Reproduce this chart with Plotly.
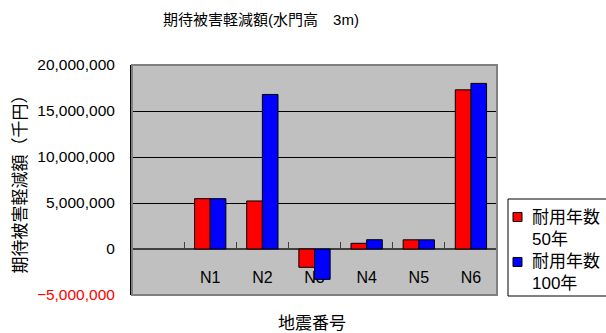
import plotly.graph_objects as go

# Earthquake IDs (first slot is an empty category)
categories = [" ", "N1", "N2", "N3", "N4", "N5", "N6"]
# Expected damage reduction (thousand yen)
life_50 = [None, 5470000, 5220000, -1990000, 620000, 1000000, 17300000]
life_100 = [None, 5470000, 16800000, -3300000, 1010000, 1000000, 18000000]

series_names = ["耐用年数<br>50年", "耐用年数<br>100年"]
series_colors = ["#ff0000", "#0000ff"]

y_ticks = [-5000000, 0, 5000000, 10000000, 15000000, 20000000]
y_tick_text = ['<span style="color:#ff0000">−5,000,000</span>', "0",
               "5,000,000", "10,000,000", "15,000,000", "20,000,000"]

FONT = "Liberation Sans, Arial, Noto Sans CJK JP, sans-serif"

# Plot area in pixels
W, H = 606, 333
L, R, T, B = 132, 497, 65, 295


def px_x(x):
    return (x - L) / (R - L)


def px_y(y):
    return (B - y) / (B - T)


fig = go.Figure()
for vals, name, color in zip([life_50, life_100], series_names, series_colors):
    fig.add_trace(go.Bar(
        x=categories, y=vals, name=name,
        marker=dict(color=color, line=dict(color="#000000", width=1)),
    ))

shapes = [
    # plot-area frame
    dict(type="rect", xref="paper", yref="paper", x0=0, x1=1, y0=0, y1=1,
         line=dict(color="#808080", width=2), layer="above"),
    # legend box (runs past the right edge of the page)
    dict(type="rect", xref="paper", yref="paper",
         x0=px_x(508), x1=px_x(620), y0=px_y(296), y1=px_y(199),
         line=dict(color="#000000", width=1), fillcolor="#ffffff"),
]
annotations = [
    dict(text="地震番号", xref="paper", yref="paper", x=px_x(312), y=px_y(323),
         xanchor="center", yanchor="middle", showarrow=False,
         font=dict(size=17)),
]

# legend entries: swatch + two-line label
for i, (name, color) in enumerate(zip(series_names, series_colors)):
    cy = [217, 262][i]
    ty = [228, 272][i]
    shapes.append(dict(type="rect", xref="paper", yref="paper",
                       x0=px_x(513), x1=px_x(522), y0=px_y(cy + 4.5), y1=px_y(cy - 4.5),
                       line=dict(color="#000000", width=1), fillcolor=color))
    annotations.append(dict(text=name, xref="paper", yref="paper",
                            x=px_x(530), y=px_y(ty), xanchor="left", yanchor="middle",
                            align="left", showarrow=False, font=dict(size=17)))

fig.update_layout(
    width=W, height=H,
    margin=dict(l=L, r=W - R, t=T, b=H - B, autoexpand=False),
    paper_bgcolor="#ffffff",
    plot_bgcolor="#c0c0c0",
    font=dict(family=FONT, size=15, color="#000000"),
    title=dict(text="期待被害軽減額(水門高　3m)", x=261 / W, xanchor="center",
               y=1 - 20 / H, yanchor="middle", font=dict(size=15)),
    barmode="group",
    bargap=0.4,
    bargroupgap=0,
    showlegend=False,
    shapes=shapes,
    annotations=annotations,
    xaxis=dict(
        type="category", categoryorder="array", categoryarray=categories,
        range=[-0.5, 6.5], anchor="free", position=0.2,
        showline=True, linecolor="#404040", linewidth=1.5,
        ticks="inside", ticklen=6, tickcolor="#404040", tickson="boundaries",
        ticklabelstandoff=14, tickfont=dict(size=16),
        showgrid=False, zeroline=False, layer="below traces",
    ),
    yaxis=dict(
        range=[-5000000, 20000000], tickvals=y_ticks, ticktext=y_tick_text,
        showgrid=True, gridcolor="#000000", gridwidth=1,
        showline=True, linecolor="#000000", linewidth=2,
        zeroline=False, ticks="", ticklabelstandoff=12,
        tickfont=dict(size=15.5),
        title=dict(text="期待被害軽減額（千円）", font=dict(size=17), standoff=6),
    ),
)

fig.write_html("out.html")
